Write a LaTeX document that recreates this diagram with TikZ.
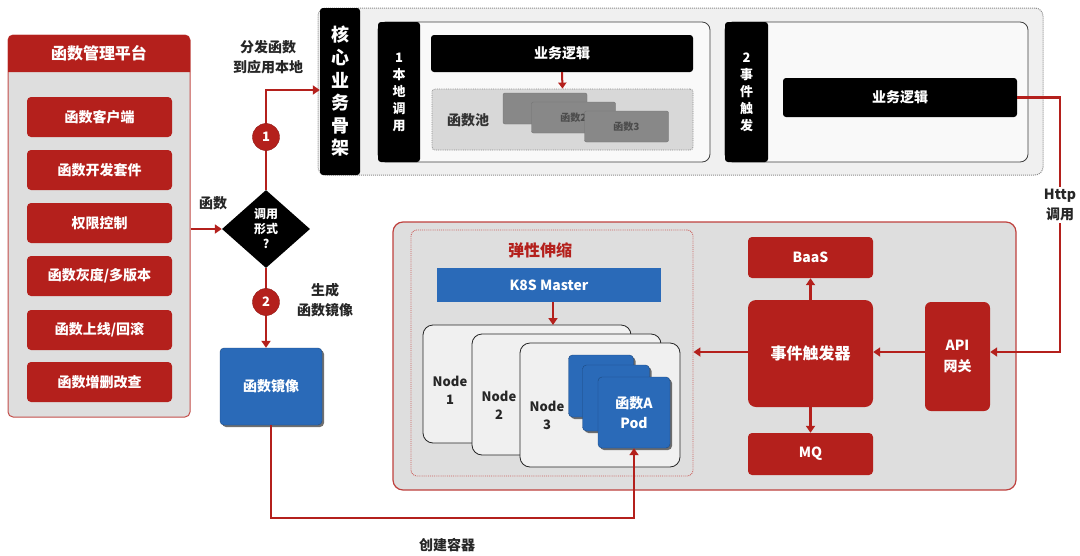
\documentclass[tikz,border=0pt]{standalone}
\usepackage{fontspec}
\setmainfont{Noto Sans CJK SC}
\usetikzlibrary{arrows.meta,positioning,shapes.geometric,shadows}
\definecolor{fnred}{RGB}{180,32,28}
\definecolor{fnblue}{RGB}{42,106,184}
\definecolor{panelgray}{RGB}{222,222,222}
\definecolor{framegray}{RGB}{240,240,240}
\definecolor{poolgray}{RGB}{216,216,216}
\definecolor{cardgray}{RGB}{136,136,136}
\newcommand{\fs}[2]{\fontsize{#1}{#2}\selectfont\bfseries}
\begin{document}
\begin{tikzpicture}[
            x=1pt, y=-1pt,
            % rote Kästen der Plattform und der Ereignisseite
            redbox/.style={rectangle, rounded corners=4pt, fill=fnred, text=white, inner sep=0pt, font=\fs{14}{20}, align=center},
            blackbar/.style={rectangle, rounded corners=3pt, fill=black, text=white, inner sep=0pt, align=center},
            bluebox/.style={rectangle, rounded corners=4pt, fill=fnblue, draw=fnblue!70!black, text=white, inner sep=0pt, font=\fs{14}{20}, align=center,
                drop shadow={shadow xshift=2pt, shadow yshift=-2pt, fill=black!70, opacity=0.8}},
            panel/.style={rectangle, rounded corners=8pt, draw=black!75, fill=framegray!40, inner sep=0pt, line width=0.8pt},
            nodebox/.style={rectangle, rounded corners=10pt, draw=black!85, fill=framegray, inner sep=0pt, line width=0.8pt},
            nodetext/.style={align=center, font=\fs{13}{18}, text=black!85},
            card/.style={rectangle, rounded corners=2pt, fill=cardgray, draw=black!55, inner sep=0pt, font=\fs{10}{12}, text=black!70,
                minimum width=84pt, minimum height=31pt},
            numdot/.style={circle, fill=fnred, draw=fnred!80!black, text=white, inner sep=0pt, minimum size=27pt, font=\fs{13}{15}},
            label/.style={align=center, font=\fs{14}{20}, text=black!85},
            flow/.style={draw=fnred, line width=2.5pt, -{Triangle[length=7pt,width=9pt]}}
        ]
        \useasboundingbox (0,0) rectangle (1080,555);
        % Funktionsplattform links
        \node[rectangle, rounded corners=5pt, draw=fnred!80, fill=panelgray, line width=1pt, minimum width=182pt, minimum height=382pt] (plat) at (99,226) {};
        \fill[fnred] (8,72) [rounded corners=5pt] -- (8,35) -- (190,35) [sharp corners] -- (190,72) -- cycle;
        \node[text=white, font=\fs{16}{18}] (plathead) at (99,53.5) {函数管理平台};
        \foreach \name/\y/\txt in {client/117/函数客户端, kit/170/函数开发套件, auth/223/权限控制,
                                   gray/276/{函数灰度/多版本}, online/330/{函数上线/回滚}, crud/382/函数增删改查}
            \node[redbox, minimum width=145pt, minimum height=40pt] (\name) at (99.5,\y) {\txt};

        % Entscheidung
        \node[diamond, fill=black, text=white, inner sep=0pt, aspect=1.13, minimum width=88pt, minimum height=78pt,
              font=\fs{12}{15}, align=center] (decide) at (266,229) {调用\\形式\\?};
        \draw[flow] (plat.east |- decide) -- (decide.west);
        \node[label] (fnlabel) at (213,203) {函数};

        % oberer Rahmen: Kern-Geschäftsgerüst
        \node[rectangle, rounded corners=8pt, draw=black!45, densely dotted, line width=1pt, fill=framegray,
              minimum width=725pt, minimum height=167pt] (frame) at (680.5,91.5) {};
        \node[blackbar, minimum width=40pt, minimum height=167pt, font=\fs{18}{22.6}] (core) at (340,91.5)
            {核\\心\\业\\务\\骨\\架};
        \node[panel, minimum width=332pt, minimum height=140pt] (local) at (544,92) {};
        \node[blackbar, minimum width=42pt, minimum height=140pt, font=\fs{13}{17}] (localbar) at (399,92)
            {1\\本\\地\\调\\用};
        \node[blackbar, minimum width=262pt, minimum height=37pt, font=\fs{14}{16}] (logic1) at (562,53.5) {业务逻辑};
        \node[rectangle, rounded corners=3pt, draw=black!45, densely dotted, line width=0.8pt, fill=poolgray,
              minimum width=261pt, minimum height=61pt] (pool) at (562.5,119.5) {};
        \node[font=\fs{14}{16}, text=black!80] (poolname) at (468,120) {函数池};
        \node[card] (fn1) at (545,108.5) {函数1};
        \node[card] (fn2) at (573.5,117.5) {函数2};
        \node[card] (fn3) at (626.5,126.5) {函数3};
        \draw[draw=fnred, line width=2pt, -{Triangle[length=6pt,width=8pt]}] (logic1.south) -- (pool.north);

        \node[panel, minimum width=303pt, minimum height=140pt] (event) at (876.5,92) {};
        \node[blackbar, minimum width=43pt, minimum height=140pt, font=\fs{13}{17}] (eventbar) at (746.5,92)
            {2\\事\\件\\触\\发};
        \node[blackbar, minimum width=234pt, minimum height=39pt, font=\fs{14}{16}] (logic2) at (900,97.5) {业务逻辑};

        % Weg 1: Verteilung an die Anwendung
        \draw[flow] (decide.north) |- (core.west |- {(0,90)});
        \node[numdot] (n1) at (266,137) {1};
        \node[label] (distlabel) at (268,57) {分发函数\\到应用本地};

        % Weg 2: Funktionsabbild
        \node[bluebox, minimum width=102pt, minimum height=77pt] (image) at (271,386.5) {函数镜像};
        \draw[flow] (decide.south) -- (decide.south |- image.north);
        \node[numdot] (n2) at (266,302) {2};
        \node[label] (imglabel) at (325,300) {生成\\函数镜像};

        % unterer Rahmen
        \node[rectangle, rounded corners=10pt, draw=fnred!85, fill=panelgray, line width=1.2pt,
              minimum width=623pt, minimum height=268pt] (runtime) at (704.5,356) {};
        \node[rectangle, rounded corners=6pt, draw=fnred!70, densely dotted, line width=0.9pt,
              minimum width=282pt, minimum height=246pt] (elastic) at (552,353) {};
        \node[font=\fs{16}{18}, text=fnred] (elastictitle) at (540,250) {弹性伸缩};
        \node[rectangle, fill=fnblue, text=white, inner sep=0pt, font=\fs{14}{16},
              minimum width=224pt, minimum height=34pt] (k8s) at (549,285) {K8S Master};
        \node[nodebox, minimum width=208pt, minimum height=118pt] (node1) at (527,384) {};
        \node[nodebox, minimum width=189pt, minimum height=121pt] (node2) at (566.5,394.5) {};
        \node[nodebox, minimum width=160pt, minimum height=124pt] (node3) at (600,405) {};
        \node[nodetext] (n1text) at (450,390) {Node\\1};
        \node[nodetext] (n2text) at (499,405) {Node\\2};
        \node[nodetext] (n3text) at (547,415) {Node\\3};
        \node[bluebox, minimum width=65pt, minimum height=62pt] (podC) at (601,386) {};
        \node[bluebox, minimum width=67pt, minimum height=66pt] (podB) at (616,398) {};
        \node[bluebox, minimum width=72pt, minimum height=71pt] (podA) at (634,412.5) {函数A\\Pod};
        \draw[flow] (k8s.south -| 553,0) -- (553,325);

        \node[redbox, minimum width=125pt, minimum height=41pt] (baas) at (810.5,257.5) {BaaS};
        \node[redbox, rounded corners=8pt, minimum width=125pt, minimum height=107pt, font=\fs{16}{18}] (trigger) at (810.5,353.5) {事件触发器};
        \node[redbox, minimum width=125pt, minimum height=42pt] (mq) at (810.5,454) {MQ};
        \node[redbox, rounded corners=6pt, minimum width=65pt, minimum height=109pt, font=\fs{14}{21}] (api) at (957.5,356.5)
            {API\\网关};
        \draw[flow] (trigger.north) -- (baas.south);
        \draw[flow] (trigger.south) -- (mq.north);
        \draw[flow] (api.west |- 0,352) -- (trigger.east |- 0,352);
        \draw[flow] (trigger.west |- 0,352) -- (elastic.east |- 0,352);

        % Http-Aufruf
        \coordinate (httpturn) at (1060,97.5);
        \draw[flow] (logic2.east) -- (httpturn) |- (api.east |- 0,352);
        \node[label, fill=white, inner sep=2pt] (httplabel) at (1060,205) {Http\\调用};

        % Container erzeugen
        \draw[flow] (image.south) -- (image.south |- 0,518) -| (podA.south);
        \node[label] (createlabel) at (447,545) {创建容器};
    \end{tikzpicture}
\end{document}
